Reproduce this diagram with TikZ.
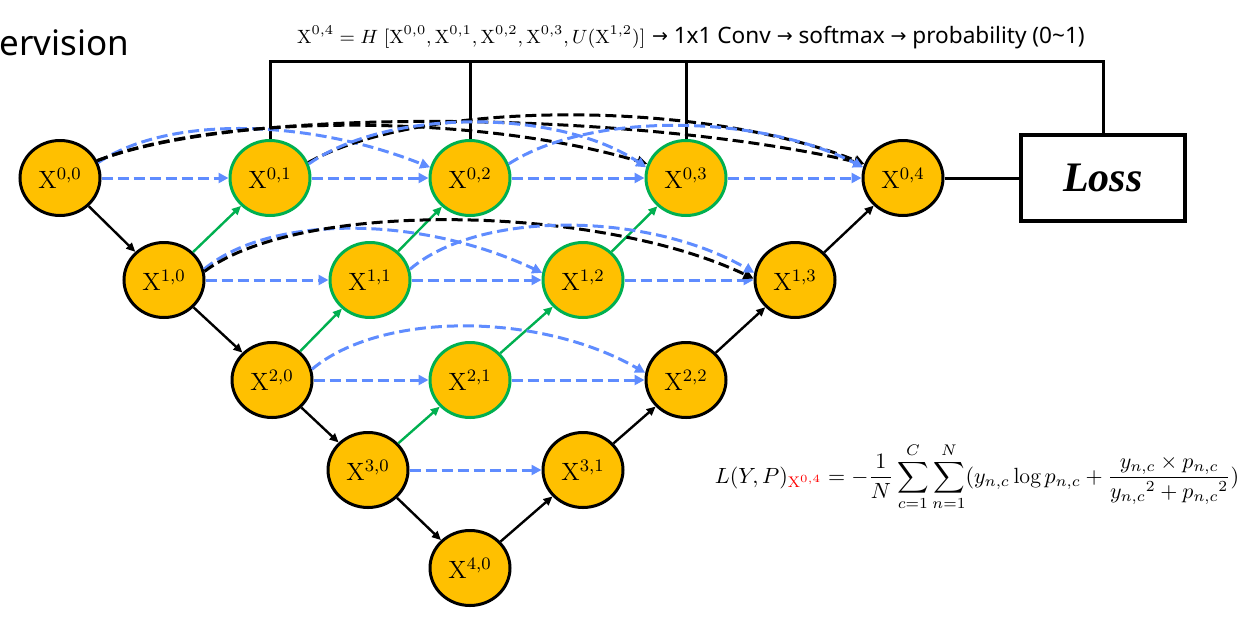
\RequirePackage{fix-cm}
\documentclass[tikz,border=0pt]{standalone}
\usepackage{amsmath}
\usepackage{fontspec}
\newfontfamily\sansf{Noto Sans}
\newfontfamily\dejavu{DejaVu Sans}
\newfontfamily\lossf{Liberation Serif}
\usetikzlibrary{arrows.meta,shapes.geometric}
\definecolor{nodeyellow}{RGB}{255,192,0}
\definecolor{ugreen}{RGB}{0,176,80}
\definecolor{ublue}{RGB}{95,140,255}
\newcommand\xlab[2]{$\mathrm{X}^{#1,#2}$}
\newcommand\rarr{{\dejavu\fontsize{9.5}{11}\selectfont\raisebox{0.3pt}{→}}}
\begin{document}
\begin{tikzpicture}[x=0.5pt,y=-0.5pt,
  unode/.style={ellipse, draw=black, line width=1.5pt, fill=nodeyellow,
    minimum width=40pt, minimum height=37.5pt, inner sep=0pt,
    font=\fontsize{12.5}{14}\selectfont},
  gnode/.style={unode, draw=ugreen},
  solidarrow/.style={draw=black, line width=1.2pt, -{Triangle[length=4.5pt,width=4pt]}},
  greenarrow/.style={solidarrow, draw=ugreen},
  bluedash/.style={draw=ublue, line width=1.5pt, dash pattern=on 5.5pt off 2.5pt, -{Triangle[length=5pt,width=5pt]}},
  blackdash/.style={draw=black, line width=1.5pt, dash pattern=on 5.5pt off 2.5pt, -{Triangle[length=5pt,width=5pt]}},
  bracket/.style={draw=black, line width=1.5pt}
]
\useasboundingbox (0,0) rectangle (1243,617);

% title fragment
\node[anchor=base west, inner sep=0pt] (title) at (-1,55) {\sansf\fontsize{17.5}{20}\selectfont ervision};

% top formula
\node[anchor=base, inner sep=0pt] (formula) at (691,43) {%
  {\fontsize{9.6}{12}\selectfont$\mathrm{X}^{0,4} = H\;[\mathrm{X}^{0,0},\mathrm{X}^{0,1},\mathrm{X}^{0,2},\mathrm{X}^{0,3},U(\mathrm{X}^{1,2})]$}
  {\sansf\fontsize{11.3}{13}\selectfont \rarr{} 1x1 Conv \rarr{} softmax \rarr{} probability (0\textasciitilde1)}};

% nodes
\node[unode] (X00) at (60,178) {\xlab{0}{0}};
\node[gnode] (X01) at (270,178) {\xlab{0}{1}};
\node[gnode] (X02) at (470,178) {\xlab{0}{2}};
\node[gnode] (X03) at (686,178) {\xlab{0}{3}};
\node[unode] (X04) at (903,178) {\xlab{0}{4}};
\node[unode] (X10) at (164,280) {\xlab{1}{0}};
\node[gnode] (X11) at (370,280) {\xlab{1}{1}};
\node[gnode] (X12) at (583,280) {\xlab{1}{2}};
\node[unode] (X13) at (795,280) {\xlab{1}{3}};
\node[unode] (X20) at (272,380) {\xlab{2}{0}};
\node[gnode] (X21) at (470,380) {\xlab{2}{1}};
\node[unode] (X22) at (686,380) {\xlab{2}{2}};
\node[unode] (X30) at (368,470) {\xlab{3}{0}};
\node[unode] (X31) at (583,470) {\xlab{3}{1}};
\node[unode] (X40) at (470,568) {\xlab{4}{0}};

% loss box
\node[draw=black, line width=1.7pt, minimum width=82pt, minimum height=43pt, inner sep=0pt] (Loss) at (1103,178)
  {\lossf\bfseries\itshape\fontsize{21}{24}\selectfont Loss};

% bracket
\coordinate (TL) at (269,61);
\coordinate (TR) at (1103,61);
\draw[bracket] (X01.north) -- (X01.north |- TL) -- (TR) -- (Loss.north);
\draw[bracket] (X02.north) -- (X02.north |- TL);
\draw[bracket] (X03.north) -- (X03.north |- TL);
\draw[bracket] (X04) -- (Loss);

% encoder / decoder
\draw[solidarrow] (X00) -- (X10);
\draw[solidarrow] (X10) -- (X20);
\draw[solidarrow] (X20) -- (X30);
\draw[solidarrow] (X30) -- (X40);
\draw[solidarrow] (X40) -- (X31);
\draw[solidarrow] (X31) -- (X22);
\draw[solidarrow] (X22) -- (X13);
\draw[solidarrow] (X13) -- (X04);

% green upsampling
\draw[greenarrow] (X10) -- (X01);
\draw[greenarrow] (X20) -- (X11);
\draw[greenarrow] (X11) -- (X02);
\draw[greenarrow] (X30) -- (X21);
\draw[greenarrow] (X21) -- (X12);
\draw[greenarrow] (X12) -- (X03);

% horizontal skips
\draw[bluedash] (X00) -- (X01);
\draw[bluedash] (X01) -- (X02);
\draw[bluedash] (X02) -- (X03);
\draw[bluedash] (X03) -- (X04);
\draw[bluedash] (X10) -- (X11);
\draw[bluedash] (X11) -- (X12);
\draw[bluedash] (X12) -- (X13);
\draw[bluedash] (X20) -- (X21);
\draw[bluedash] (X21) -- (X22);
\draw[bluedash] (X30) -- (X31);

% curved skips row 0
\draw[bluedash] (X00.22) .. controls +(72,-48) and +(-121,-48) .. (X02.165);
\draw[blackdash] (X00.25) .. controls +(122,-48) and +(-167,-50) .. (X03.160);
\draw[blackdash] (X00.25) .. controls +(152,-58) and +(-214,-50) .. (X04.160);
\draw[blackdash] (X01.22) .. controls +(112,-63) and +(-164,-65) .. (X04.160);
\draw[bluedash] (X01.20) .. controls +(82,-57) and +(-86,-58) .. (X03.165);
\draw[bluedash] (X02.20) .. controls +(82,-53) and +(-103,-53) .. (X04.165);
% row 1
\draw[bluedash] (X10.15) .. controls +(66,-55) and +(-123,-58) .. (X12.170);
\draw[blackdash] (X10.12) .. controls +(96,-72) and +(-155,-74) .. (X13.178);
\draw[bluedash] (X11.15) .. controls +(70,-60) and +(-105,-61) .. (X13.170);
% row 2
\draw[bluedash] (X20.15) .. controls +(69,-58) and +(-106,-61) .. (X22.170);

% loss equation
\node[inner sep=0pt] (eq) at (977,477) {\fontsize{11}{14}\selectfont
  $\displaystyle L(Y,P)_{\textcolor{red}{\mathrm{X}^{0,4}}} = -\frac{1}{N}\sum_{c=1}^{C}\sum_{n=1}^{N}(y_{n,c}\log p_{n,c} + \frac{y_{n,c}\times p_{n,c}}{{y_{n,c}}^{2}+{p_{n,c}}^{2}})$};
\end{tikzpicture}
\end{document}
